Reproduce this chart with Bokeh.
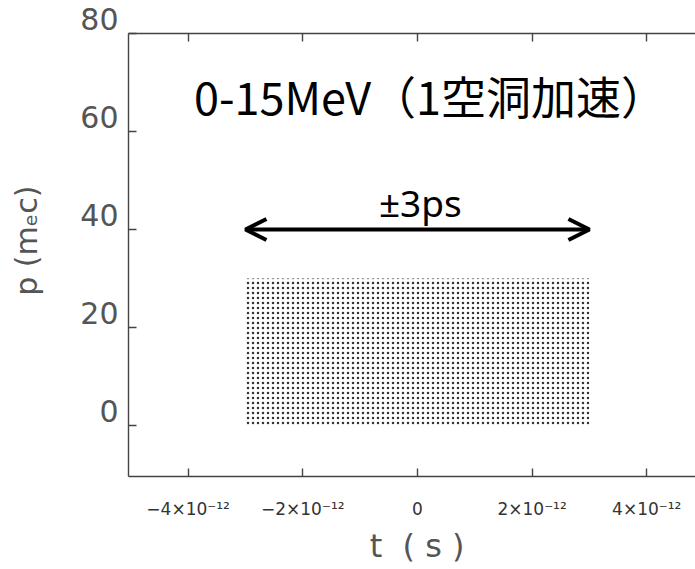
from bokeh.plotting import figure
from bokeh.models import (Range1d, LinearAxis, FixedTicker, CustomJSTickFormatter,
                          Label, Arrow, OpenHead)
from bokeh.embed import file_html
from bokeh.resources import INLINE

# ---------------- data ----------------
x_ticks = [-4e-12, -2e-12, 0.0, 2e-12, 4e-12]
x_tick_labels = ["\u22124\u00d710\u207b\u00b9\u00b2", "\u22122\u00d710\u207b\u00b9\u00b2", "0",
                 "2\u00d710\u207b\u00b9\u00b2", "4\u00d710\u207b\u00b9\u00b2"]
y_ticks = [0, 20, 40, 60, 80]
y_tick_labels = ["0", "20", "40", "60", "80"]

# particle bunch occupies (uniformly) this box in the t-p plane
bunch_t = [-3.0e-12, 3.0e-12]
bunch_p = [0.0, 30.0]

# arrow marking +-3 ps
arrow_t = [-3.0e-12, 3.0e-12]
arrow_p = 40.0

x_start, x_end = -5.04e-12, 4.85e-12
y_start, y_end = -10.4, 80.0

TICK_FONT = "DejaVu Sans"
JP_FONT = "Noto Sans CJK JP"
AX_COLOR = "#444444"
TXT_COLOR = "#555555"
NB = "\u00a0"

p = figure(width=695, height=569, output_backend="svg", toolbar_location=None,
           x_range=Range1d(x_start, x_end), y_range=Range1d(y_start, y_end),
           x_axis_location=None, y_axis_location=None,
           min_border_left=128, min_border_right=0, min_border_top=33, min_border_bottom=93)
p.outline_line_color = None
p.xgrid.visible = False
p.ygrid.visible = False
p.background_fill_color = "white"
p.border_fill_color = "white"

fmt_x = CustomJSTickFormatter(args=dict(vals=x_ticks, labs=x_tick_labels), code="""
const i = vals.findIndex(v => Math.abs(v - tick) < 1e-15);
return i >= 0 ? labs[i] : '';
""")
# y labels sit on top of their ticks: an extra blank line lifts them
fmt_y = CustomJSTickFormatter(args=dict(vals=y_ticks, labs=y_tick_labels), code="""
const i = vals.findIndex(v => Math.abs(v - tick) < 1e-9);
return i >= 0 ? labs[i] + '\\n\\u00a0' : '';
""")
blank = CustomJSTickFormatter(code="return '';")

def style_axis(ax):
    ax.axis_line_color = AX_COLOR
    ax.axis_line_width = 1.4
    ax.major_tick_line_color = AX_COLOR
    ax.major_tick_line_width = 1.4
    ax.major_tick_in = 8
    ax.major_tick_out = 0
    ax.minor_tick_line_color = None

xb = LinearAxis(ticker=FixedTicker(ticks=x_ticks), formatter=fmt_x)
style_axis(xb)
xb.major_label_text_font = TICK_FONT
xb.major_label_text_font_size = "17px"
xb.major_label_text_color = "#333333"
xb.major_label_standoff = 22
xb.axis_label = NB + "t" + NB + NB + "(" + NB + "s" + NB + ")"
xb.axis_label_text_font = TICK_FONT
xb.axis_label_text_font_style = "normal"
xb.axis_label_text_font_size = "32px"
xb.axis_label_text_line_height = 1.0
xb.axis_label_text_color = TXT_COLOR
xb.axis_label_standoff = 5
p.add_layout(xb, "below")

xt = LinearAxis(ticker=FixedTicker(ticks=x_ticks), formatter=blank)
style_axis(xt)
xt.major_label_text_font_size = "1px"
xt.major_label_standoff = 0
p.add_layout(xt, "above")

yl = LinearAxis(ticker=FixedTicker(ticks=y_ticks), formatter=fmt_y)
style_axis(yl)
yl.major_label_text_font = TICK_FONT
yl.major_label_text_font_size = "30px"
yl.major_label_text_line_height = 0.8
yl.major_label_text_color = TXT_COLOR
yl.major_label_standoff = 10
yl.axis_label = NB + NB + NB + "p" + NB + "(m\u2091c)"
yl.axis_label_text_font = TICK_FONT
yl.axis_label_text_font_style = "normal"
yl.axis_label_text_font_size = "30px"
yl.axis_label_text_color = TXT_COLOR
yl.axis_label_standoff = 33
p.add_layout(yl, "left")

# particle bunch (uniform filling shown as a dotted texture)
p.quad(left=bunch_t[0], right=bunch_t[1], bottom=bunch_p[0], top=bunch_p[1],
       fill_alpha=0, line_alpha=0, hatch_pattern="dot", hatch_color="black",
       hatch_scale=5, hatch_weight=1, hatch_alpha=0.8)

# double arrow
p.add_layout(Arrow(x_start=arrow_t[0], y_start=arrow_p, x_end=arrow_t[1], y_end=arrow_p,
                   line_width=4, line_color="black",
                   start=OpenHead(size=21, line_width=4, line_color="black"),
                   end=OpenHead(size=21, line_width=4, line_color="black")))

# annotations
p.add_layout(Label(x=0.22e-12, y=67.3, text="0-15MeV\uff081\u7a7a\u6d1e\u52a0\u901f\uff09",
                   text_align="center", text_baseline="middle",
                   text_font=JP_FONT, text_font_size="45px", text_color="black"))
p.add_layout(Label(x=0.05e-12, y=45.5, text="\u00b13ps",
                   text_align="center", text_baseline="alphabetic",
                   text_font="Noto Sans", text_font_size="37px", text_color="black"))

open("out.html", "w").write(file_html(p, INLINE))
